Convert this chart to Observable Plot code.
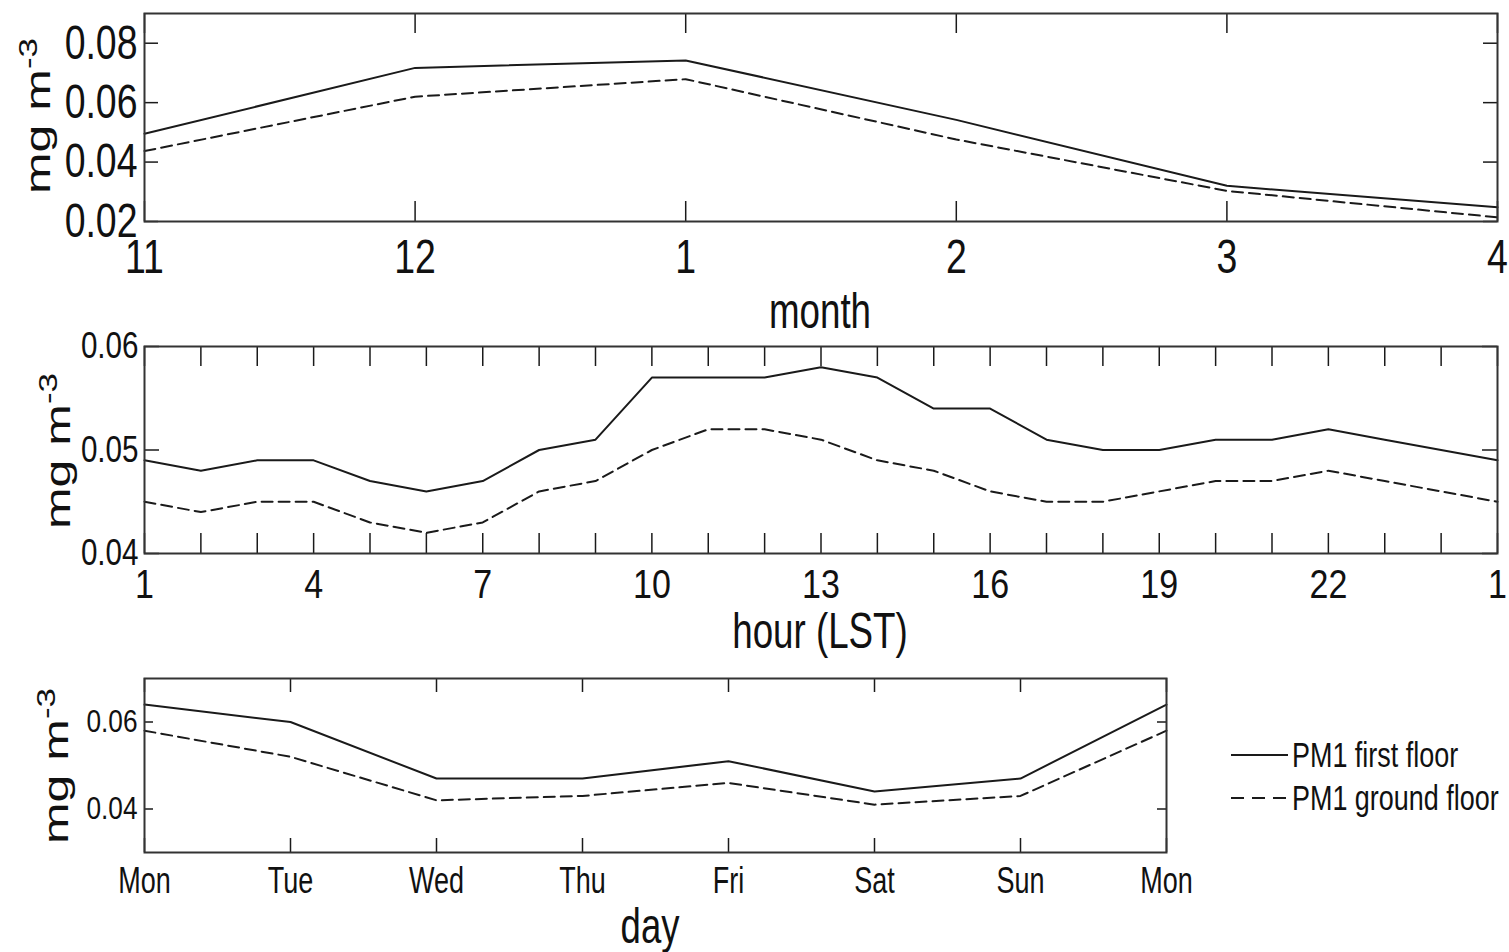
<!DOCTYPE html>
<html><head><meta charset="utf-8">
<script src="https://cdn.jsdelivr.net/npm/d3@7"></script>
<script src="https://cdn.jsdelivr.net/npm/@observablehq/plot@0.6"></script>
<style>
html,body{margin:0;padding:0;background:#fff;}
#wrap{position:relative;width:1509px;height:952px;overflow:hidden;background:#fff;}
#wrap svg{position:absolute;left:0;}
</style></head><body><div id="wrap"></div>
<script>
// ---------- data ----------
const seriesNames = ["PM1 first floor", "PM1 ground floor"];

const monthLabels = ["11", "12", "1", "2", "3", "4"];
const monthFirst  = [0.0495, 0.0717, 0.0742, 0.0542, 0.0320, 0.0248];
const monthGround = [0.0437, 0.0620, 0.0679, 0.0476, 0.0303, 0.0214];
const monthYTicks = [0.02, 0.04, 0.06, 0.08];

const hours = [1, 2, 3, 4, 5, 6, 7, 8, 9, 10, 11, 12, 13, 14, 15, 16, 17, 18, 19, 20, 21, 22, 23, 24, 25];
const hourLabelTicks = [1, 4, 7, 10, 13, 16, 19, 22, 25];
const hourTickLabels = ["1", "4", "7", "10", "13", "16", "19", "22", "1"];
const hourFirst  = [0.049, 0.048, 0.049, 0.049, 0.047, 0.046, 0.047, 0.050, 0.051, 0.057, 0.057, 0.057, 0.058, 0.057, 0.054, 0.054, 0.051, 0.050, 0.050, 0.051, 0.051, 0.052, 0.051, 0.050, 0.049];
const hourGround = [0.045, 0.044, 0.045, 0.045, 0.043, 0.042, 0.043, 0.046, 0.047, 0.050, 0.052, 0.052, 0.051, 0.049, 0.048, 0.046, 0.045, 0.045, 0.046, 0.047, 0.047, 0.048, 0.047, 0.046, 0.045];
const hourYTicks = [0.04, 0.05, 0.06];

const dayLabels = ["Mon", "Tue", "Wed", "Thu", "Fri", "Sat", "Sun", "Mon"];
const dayFirst  = [0.064, 0.060, 0.047, 0.047, 0.051, 0.044, 0.047, 0.064];
const dayGround = [0.058, 0.052, 0.042, 0.043, 0.046, 0.041, 0.043, 0.058];
const dayYTicks = [0.04, 0.06];

// ---------- drawing ----------
const FONT = "'Liberation Sans', Arial, Helvetica, sans-serif";
const INK = "#1a1a1a";
const wrap = document.getElementById("wrap");

function squeeze(svg, selector, sx) {
  svg.querySelectorAll(selector + " text").forEach(t => {
    const x = parseFloat(t.getAttribute("x")) || 0;
    const tr = t.getAttribute("transform") || "";
    t.setAttribute("transform", `${tr} translate(${x},0) scale(${sx},1) translate(${-x},0)`);
  });
}

function addText(svg, x, y, text, fs, sx, anchor = "middle") {
  d3.select(svg).append("text")
    .attr("transform", `translate(${x},${y}) scale(${sx},1)`)
    .attr("text-anchor", anchor).attr("font-size", fs).attr("fill", "#111")
    .text(text);
}

function addYLabel(svg, x, y) {
  const t = d3.select(svg).append("text")
    .attr("transform", `translate(${x},${y}) rotate(-90) scale(1,0.72)`)
    .attr("text-anchor", "middle").attr("font-size", 50).attr("fill", "#111");
  t.append("tspan").text("mg m");
  t.append("tspan").attr("dy", "-0.5em").attr("font-size", "70%").text("-3");
}

function panel(c) {
  const fw = 1509 - c.ml - c.mr, fh = c.h - c.mt - c.mb;
  const first = c.xs.map((x, i) => ({x, v: c.a[i], s: seriesNames[0]}));
  const ground = c.xs.map((x, i) => ({x, v: c.b[i], s: seriesNames[1]}));
  const svg = Plot.plot({
    width: 1509, height: c.h,
    marginLeft: c.ml, marginRight: c.mr, marginTop: c.mt, marginBottom: c.mb,
    x: {domain: c.xDomain}, y: {domain: c.yDomain},
    style: {fontFamily: FONT, background: "transparent", color: "#111", overflow: "visible"},
    marks: [
      Plot.tickX(c.xTickAll, {x: d => d, insetTop: fh - c.xLen, stroke: INK, strokeWidth: 1.5}),
      Plot.tickX(c.xTickAll, {x: d => d, insetBottom: fh - c.xLen, stroke: INK, strokeWidth: 1.5}),
      Plot.tickY(c.yTicks, {y: d => d, insetRight: fw - c.yLen, stroke: INK, strokeWidth: 1.5}),
      Plot.tickY(c.yTicks, {y: d => d, insetLeft: fw - c.yLen, stroke: INK, strokeWidth: 1.5}),
      Plot.line(first, {x: "x", y: "v", stroke: INK, strokeWidth: 2}),
      Plot.line(ground, {x: "x", y: "v", stroke: INK, strokeWidth: 2, strokeDasharray: "11,6"}),
      Plot.frame({stroke: "#333", strokeWidth: 2}),
      Plot.axisX({anchor: "bottom", ticks: c.xLabelTicks, tickFormat: c.xFmt, tickSize: 0,
                  tickPadding: c.xPad, fontSize: c.xFs, label: null, fill: "#111"}),
      Plot.axisY({anchor: "left", ticks: c.yTicks, tickFormat: d3.format(".2f"), tickSize: 0,
                  tickPadding: c.yPad, fontSize: c.yFs, label: null, fill: "#111"})
    ]
  });
  svg.style.top = c.top + "px";
  squeeze(svg, 'g[aria-label="x-axis tick label"]', c.xSx);
  squeeze(svg, 'g[aria-label="y-axis tick label"]', c.ySx);
  wrap.appendChild(svg);
  return svg;
}

// Panel 1: month
const monthIdx = monthLabels.map((d, i) => i);
const s1 = panel({
  top: 0, h: 338, ml: 144, mr: 12, mt: 13, mb: 117,
  xs: monthIdx, a: monthFirst, b: monthGround,
  xDomain: [0, monthLabels.length - 1], yDomain: [0.02, 0.09],
  xTickAll: monthIdx, xLabelTicks: monthIdx, xFmt: i => monthLabels[i],
  yTicks: monthYTicks, xLen: 20, yLen: 14,
  xPad: 17, xFs: 48, xSx: 0.78, yPad: 7, yFs: 48, ySx: 0.78
});
addText(s1, 820, 328, "month", 49, 0.75);
addYLabel(s1, 50, 116);

// Panel 2: hour
const s2 = panel({
  top: 338, h: 322, ml: 144, mr: 12, mt: 8, mb: 107,
  xs: hours, a: hourFirst, b: hourGround,
  xDomain: [1, 25], yDomain: [0.04, 0.06],
  xTickAll: hours, xLabelTicks: hourLabelTicks, xFmt: d => hourTickLabels[hourLabelTicks.indexOf(d)],
  yTicks: hourYTicks, xLen: 20, yLen: 15,
  xPad: 15, xFs: 41, xSx: 0.83, yPad: 6, yFs: 37, ySx: 0.8
});
addText(s2, 820, 310, "hour (LST)", 49, 0.75);
addYLabel(s2, 70, 113);

// Panel 3: day
const dayIdx = dayLabels.map((d, i) => i);
const s3 = panel({
  top: 660, h: 292, ml: 144, mr: 343, mt: 18, mb: 100,
  xs: dayIdx, a: dayFirst, b: dayGround,
  xDomain: [0, dayLabels.length - 1], yDomain: [0.03, 0.07],
  xTickAll: dayIdx, xLabelTicks: dayIdx, xFmt: i => dayLabels[i],
  yTicks: dayYTicks, xLen: 14, yLen: 9,
  xPad: 15, xFs: 36, xSx: 0.75, yPad: 7, yFs: 32, ySx: 0.82
});
addText(s3, 650, 283, "day", 50, 0.73);
addYLabel(s3, 68, 106);

// legend
const lg = d3.select(s3).append("g");
seriesNames.forEach((name, i) => {
  const y = [95, 138][i];
  lg.append("line").attr("x1", 1231).attr("x2", 1288).attr("y1", y).attr("y2", y)
    .attr("stroke", INK).attr("stroke-width", 2)
    .attr("stroke-dasharray", i === 0 ? null : "13,8");
  lg.append("text").attr("transform", `translate(1292,${y + 12}) scale(0.77,1)`)
    .attr("text-anchor", "start")
    .attr("font-size", 35).attr("fill", "#111").text(name);
});
</script></body></html>
